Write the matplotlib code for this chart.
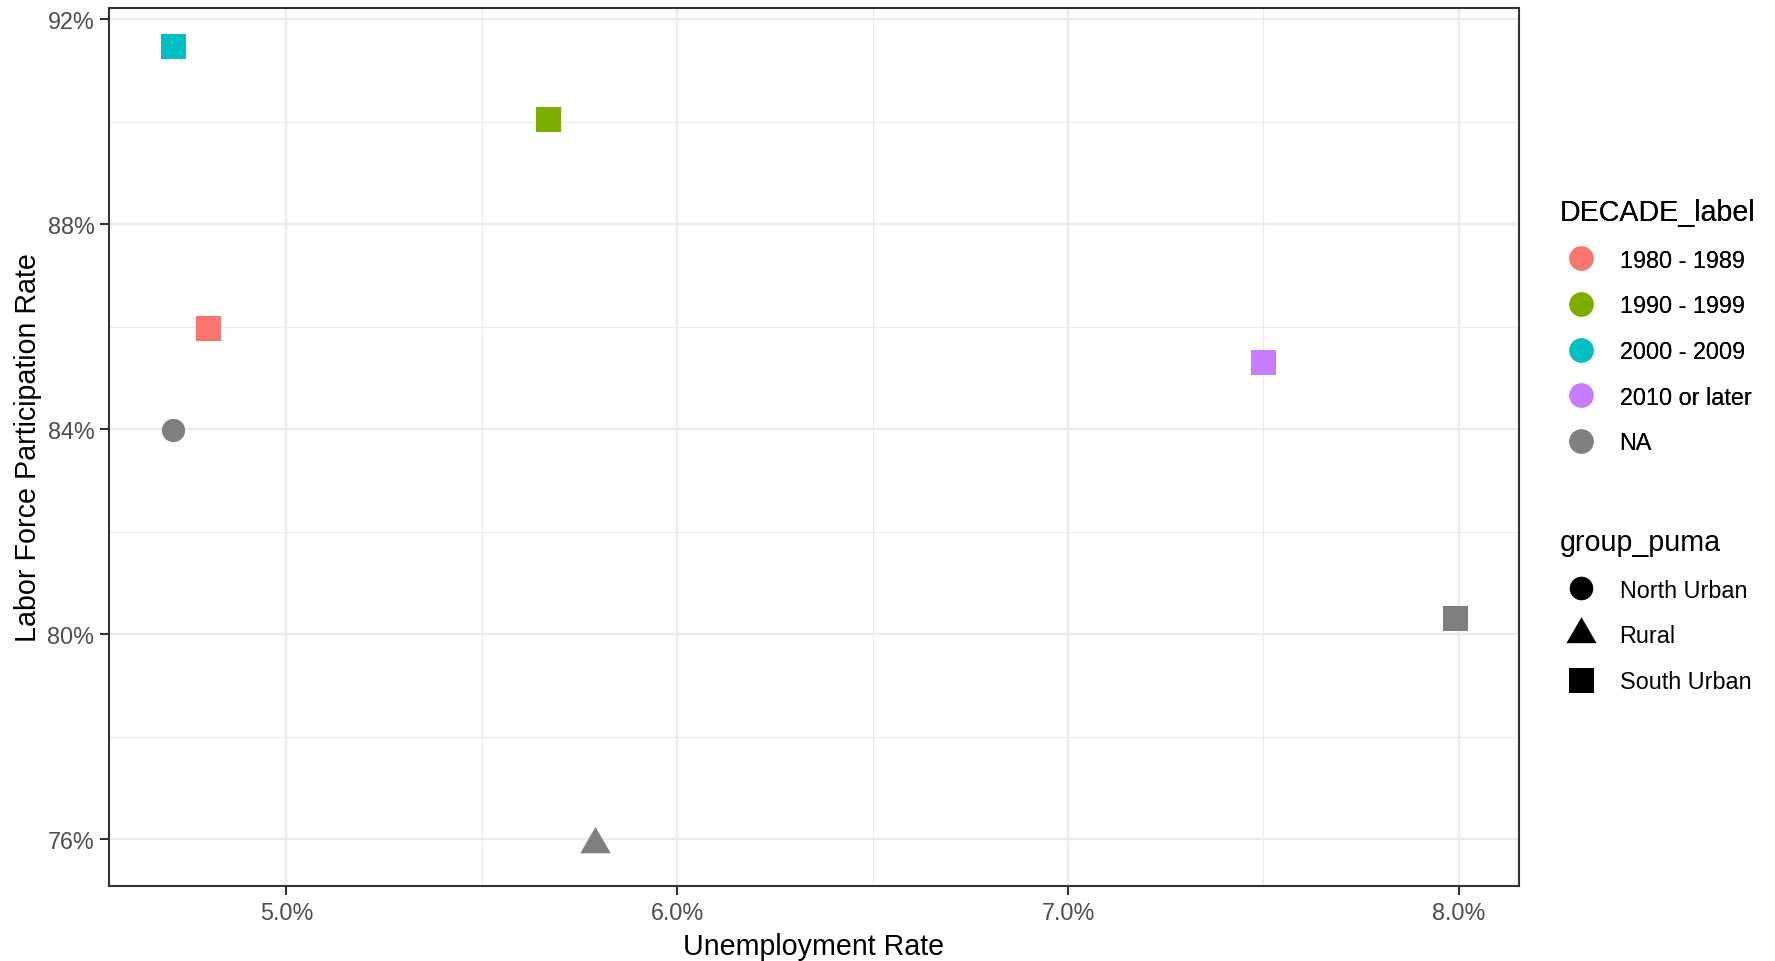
import matplotlib
matplotlib.use("Agg")
import matplotlib.pyplot as plt
from matplotlib.lines import Line2D
from matplotlib.ticker import FixedLocator, FuncFormatter

plt.rcParams['font.family'] = ['Liberation Sans', 'DejaVu Sans']

# ---- data ----
unemployment = [4.71, 4.80, 4.71, 5.67, 7.50, 7.99, 5.79]
participation = [83.98, 85.97, 91.48, 90.05, 85.31, 80.31, 75.90]
decade = ["NA", "1980 - 1989", "2000 - 2009", "1990 - 1999", "2010 or later", "NA", "NA"]
group_puma = ["North Urban", "South Urban", "South Urban", "South Urban", "South Urban", "South Urban", "Rural"]

decade_levels = ["1980 - 1989", "1990 - 1999", "2000 - 2009", "2010 or later", "NA"]
decade_colors = ["#F8766D", "#7CAE00", "#00BFC4", "#C77CFF", "#7F7F7F"]
puma_levels = ["North Urban", "Rural", "South Urban"]

x_ticks = [5.0, 6.0, 7.0, 8.0]
x_minor = [4.5, 5.5, 6.5, 7.5]
y_ticks = [76, 80, 84, 88, 92]
y_minor = [78, 82, 86, 90]

# triangle marker centred on centroid (like R pch 17)
tri = [(-1.0, -0.577), (1.0, -0.577), (0.0, 1.155), (-1.0, -0.577)]
puma_markers = {"North Urban": "o", "Rural": tri, "South Urban": "s"}
puma_sizes = {"North Urban": 280, "Rural": 640, "South Urban": 324}
color_map = dict(zip(decade_levels, decade_colors))

W, H = 1775, 962
fig = plt.figure(figsize=(W / 100, H / 100), dpi=100)
ax = fig.add_axes([109 / W, 1 - 887 / H, (1519 - 109) / W, (887 - 9) / H])

for xv, yv, d, g in zip(unemployment, participation, decade, group_puma):
    ax.scatter([xv], [yv], s=puma_sizes[g], marker=puma_markers[g],
               color=color_map[d], linewidths=0, zorder=3)

ax.set_xlim(4.546, 8.154)
ax.set_ylim(75.083, 92.215)

ax.xaxis.set_major_locator(FixedLocator(x_ticks))
ax.xaxis.set_minor_locator(FixedLocator(x_minor))
ax.yaxis.set_major_locator(FixedLocator(y_ticks))
ax.yaxis.set_minor_locator(FixedLocator(y_minor))
ax.xaxis.set_major_formatter(FuncFormatter(lambda v, p: f"{v:.1f}%"))
ax.yaxis.set_major_formatter(FuncFormatter(lambda v, p: f"{v:.0f}%"))

ax.grid(which='major', color='#EBEBEB', linewidth=1.6, zorder=0)
ax.grid(which='minor', color='#EBEBEB', linewidth=0.8, zorder=0)
ax.set_axisbelow(True)
for sp in ax.spines.values():
    sp.set_color('#333333')
    sp.set_linewidth(1.5)
ax.tick_params(which='major', length=6.5, width=1.5, color='#333333',
               labelsize=16.8, labelcolor='#4D4D4D', pad=4)
ax.tick_params(which='minor', length=0)

ax.set_xlabel("Unemployment Rate", fontsize=20.6, color='black', labelpad=6)
ax.set_ylabel("Labor Force Participation Rate", fontsize=20.6, color='black', labelpad=4)

# ---- legends ----
h1 = [Line2D([], [], marker='o', linestyle='none', markersize=17.5,
             markerfacecolor=c, markeredgewidth=0) for c in decade_colors]
leg1 = fig.legend(h1, decade_levels, title="DECADE_label", loc='upper left',
                  bbox_to_anchor=(1560 / W, 1 - 199 / H), frameon=False,
                  fontsize=16.8, title_fontsize=20.6, alignment='left',
                  handlelength=1.8, handletextpad=0.75, labelspacing=0.97,
                  borderpad=0, borderaxespad=0)
fig.add_artist(leg1)

h2 = [Line2D([], [], marker=puma_markers[g], linestyle='none',
             markersize={"North Urban": 17, "Rural": 25, "South Urban": 18}[g],
             markerfacecolor='black', markeredgewidth=0) for g in puma_levels]
leg2 = fig.legend(h2, puma_levels, title="group_puma", loc='upper left',
                  bbox_to_anchor=(1560 / W, 1 - 529 / H), frameon=False,
                  fontsize=16.8, title_fontsize=20.6, alignment='left',
                  handlelength=1.8, handletextpad=0.75, labelspacing=0.97,
                  borderpad=0, borderaxespad=0)

fig.savefig("out.png", dpi=100, facecolor='white')
